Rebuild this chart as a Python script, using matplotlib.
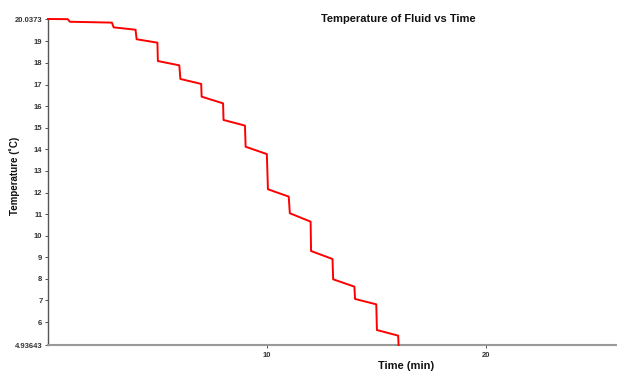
import matplotlib
matplotlib.use("Agg")
import matplotlib.pyplot as plt

plt.rcParams["font.family"] = ["Liberation Sans", "DejaVu Sans"]

time_min = [0.0, 0.9, 1.0, 2.92, 3.0, 4.0, 4.05, 5.0, 5.02, 6.0, 6.05, 7.0, 7.02,
            8.0, 8.02, 9.0, 9.03, 10.0, 10.05, 11.0, 11.05, 12.0, 12.02, 13.0, 13.03,
            14.0, 14.03, 15.0, 15.03, 16.0, 16.02]
temperature = [20.0373, 20.03, 19.91, 19.87, 19.65, 19.54, 19.10, 18.94, 18.09, 17.89, 17.26,
               17.03, 16.44, 16.13, 15.36, 15.10, 14.12, 13.78, 12.15, 11.81, 11.04,
               10.65, 9.29, 8.92, 7.98, 7.64, 7.07, 6.82, 5.63, 5.37, 4.93643]

y_min, y_max = 4.93643, 20.0373
x_min, x_max = 0, 26
y_ticks = [4.93643, 6, 7, 8, 9, 10, 11, 12, 13, 14, 15, 16, 17, 18, 19, 20.0373]
y_tick_labels = ["4.93643", "6", "7", "8", "9", "10", "11", "12", "13", "14", "15",
                 "16", "17", "18", "19", "20.0373"]
x_ticks = [10, 20]
x_tick_labels = ["10", "20"]

fig = plt.figure(figsize=(6.17, 3.74), dpi=100)
ax = fig.add_axes([48/617, 1-345/374, 1-48/617, (345-19)/374])
ax.plot(time_min, temperature, color="#ff0000", lw=1.4, clip_on=False, zorder=3)
ax.set_xlim(x_min, x_max)
ax.set_ylim(y_min, y_max)
ax.set_yticks(y_ticks)
ax.set_yticklabels(y_tick_labels)
ax.set_xticks(x_ticks)
ax.set_xticklabels(x_tick_labels)
for s in ["top", "right"]:
    ax.spines[s].set_visible(False)
ax.spines["left"].set_color("#555555")
ax.spines["left"].set_linewidth(1.0)
ax.spines["bottom"].set_color("#999999")
ax.spines["bottom"].set_linewidth(1.5)
ax.tick_params(axis="both", labelsize=5.5, length=2, width=0.6, colors="#333333")
for lab in ax.get_xticklabels() + ax.get_yticklabels():
    lab.set_fontweight("bold")
ax.tick_params(axis="y", pad=2)
ax.tick_params(axis="x", pad=3)

fig.text(398/617, 1-19/374, "Temperature of Fluid vs Time", ha="center", va="center",
         fontsize=8, fontweight="bold", color="#111111")
fig.text(15/617, 1-176/374, "Temperature (˚C)", ha="center", va="center", rotation=90,
         fontsize=7, fontweight="bold", color="#111111")
fig.text(406/617, 1-366/374, "Time (min)", ha="center", va="center",
         fontsize=8, fontweight="bold", color="#111111")

fig.savefig("out.png", dpi=100)
